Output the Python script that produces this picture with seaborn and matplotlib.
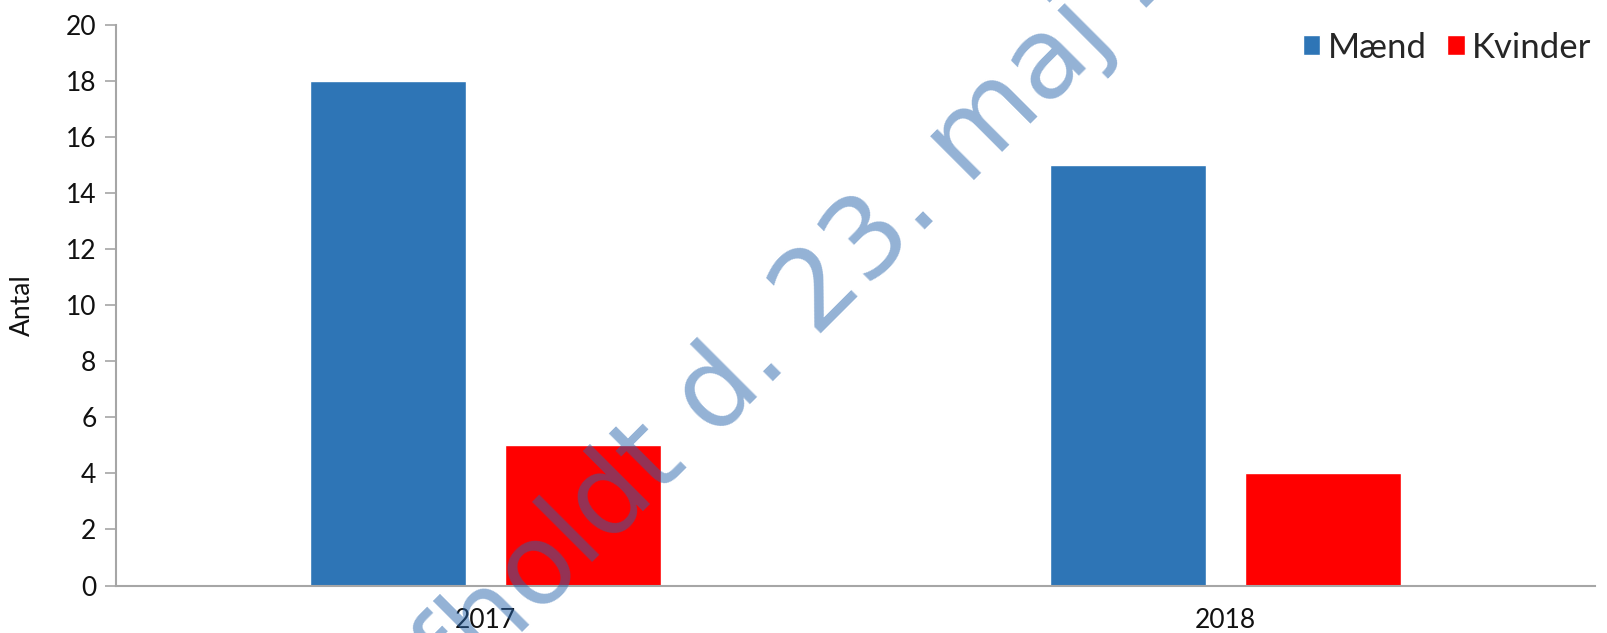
import pandas as pd
import matplotlib
matplotlib.use("Agg")
import matplotlib.pyplot as plt
import seaborn as sns

# values
years = ["2017", "2018"]
maend = [18, 15]
kvinder = [5, 4]
series_names = ["Mænd", "Kvinder"]
bar_colors = ["#2E75B6", "#FF0000"]
watermark = "Afholdt d. 23. maj 2018"

df = pd.DataFrame({
    "År": years * 2,
    "Antal": maend + kvinder,
    "Køn": [series_names[0]] * len(years) + [series_names[1]] * len(years),
})

sns.set_theme(style="white")
plt.rcParams["font.family"] = ["Lato", "DejaVu Sans"]

fig = plt.figure(figsize=(16.08, 6.33), dpi=100)
ax = fig.add_axes([0.0721, 0.0749, 0.9198, 0.8863])

sns.barplot(data=df, x="År", y="Antal", hue="Køn", palette=bar_colors,
            width=0.528, gap=0.2, ax=ax, saturation=1, errorbar=None)

ax.set_ylim(0, 20)
ax.set_xlim(-0.5, 1.5)
ax.set_yticks(range(0, 21, 2))
ax.set_xlabel("")
ax.set_ylabel("Antal", fontsize=19, color="#111111", labelpad=22)
ax.tick_params(axis="y", labelsize=19, colors="#111111", length=8, width=1.2,
               color="#A6A6A6", direction="out", left=True, pad=6)
ax.tick_params(axis="x", labelsize=19, colors="#111111", length=0, pad=16)

sns.despine(ax=ax, top=True, right=True)
for side in ["left", "bottom"]:
    ax.spines[side].set_color("#A6A6A6")
    ax.spines[side].set_linewidth(1.5)

leg = ax.legend(loc="upper right", bbox_to_anchor=(0.998, 0.972), bbox_transform=fig.transFigure,
                ncol=2, frameon=False, fontsize=25, handlelength=0.5, handleheight=0.5,
                handletextpad=0.2, columnspacing=0.6, borderaxespad=0.0)

# watermark across the plot (starts below the figure, only the middle part shows)
fig.text(0.2531, -0.1817, watermark, rotation=45, rotation_mode="anchor",
         ha="left", va="baseline", fontsize=81, family="DejaVu Sans",
         color=(40/255, 101/255, 172/255), alpha=0.5, zorder=10)

fig.savefig("out.png", dpi=100)
